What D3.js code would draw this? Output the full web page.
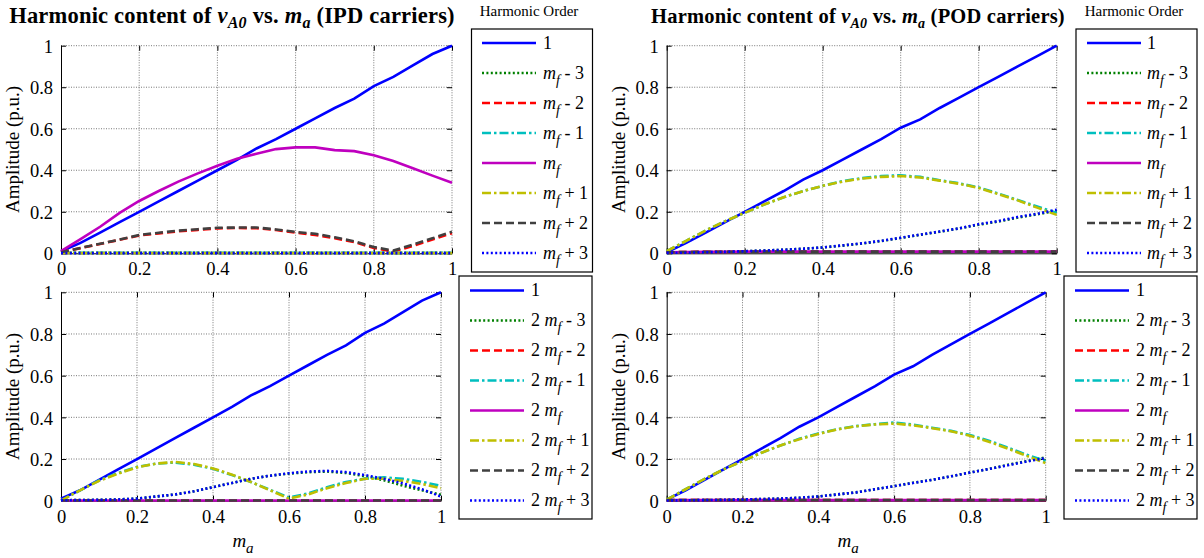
<!DOCTYPE html>
<html>
<head>
<meta charset="utf-8">
<script src="https://cdn.jsdelivr.net/npm/d3@7"></script>
<style>
  body { margin: 0; background: #fff; }
  text { white-space: pre; }
</style>
</head>
<body>
<div id="chart"></div>
<script>
// Harmonic content of vA0 vs. ma - 4 panels (IPD / POD, mf / 2mf)

const width = 1204, height = 558;
const serif = "'Liberation Serif', 'Times New Roman', Times, 'DejaVu Serif', serif";

// x values (ma)
const ma = [0, 0.05, 0.1, 0.15, 0.2, 0.25, 0.3, 0.35, 0.4, 0.45, 0.5, 0.55, 0.6, 0.65, 0.7, 0.75, 0.8, 0.85, 0.9, 0.95, 1];
const yTicks = [0, 0.2, 0.4, 0.6, 0.8, 1];
const xTicks = [0, 0.2, 0.4, 0.6, 0.8, 1];

// fundamental
const ipdFund = [0.01, 0.05, 0.1, 0.15, 0.2, 0.25, 0.3, 0.35, 0.4, 0.45, 0.505, 0.55, 0.6, 0.65, 0.7, 0.745, 0.805, 0.85, 0.905, 0.96, 1.0];
const podFund = [0.005, 0.05, 0.1, 0.15, 0.2, 0.25, 0.3, 0.355, 0.4, 0.45, 0.5, 0.55, 0.605, 0.645, 0.7, 0.75, 0.8, 0.85, 0.9, 0.95, 1.0];

// IPD, sidebands around mf
const ipdMfM3 = [0.003, 0.002, 0.002, 0.002, 0.002, 0.002, 0.002, 0.002, 0.002, 0.002, 0.002, 0.002, 0.002, 0.002, 0.002, 0.002, 0.002, 0.002, 0.002, 0.002, 0.002];
const ipdMfM2 = [0.005, 0.025, 0.045, 0.065, 0.086, 0.096, 0.106, 0.113, 0.12, 0.122, 0.121, 0.112, 0.1, 0.088, 0.073, 0.054, 0.026, 0.008, 0.036, 0.066, 0.097];
const ipdMfM1 = [0.003, 0.002, 0.002, 0.002, 0.002, 0.002, 0.002, 0.002, 0.002, 0.002, 0.002, 0.002, 0.002, 0.002, 0.002, 0.002, 0.002, 0.002, 0.002, 0.002, 0.002];
const ipdMf   = [0.01, 0.068, 0.128, 0.195, 0.252, 0.3, 0.345, 0.385, 0.422, 0.455, 0.48, 0.502, 0.51, 0.51, 0.497, 0.492, 0.472, 0.445, 0.41, 0.374, 0.34];
const ipdMfP1 = [0.002, 0.001, 0.001, 0.001, 0.001, 0.001, 0.001, 0.001, 0.001, 0.001, 0.001, 0.001, 0.001, 0.001, 0.001, 0.001, 0.001, 0.001, 0.001, 0.001, 0.001];
const ipdMfP2 = [0.005, 0.026, 0.046, 0.066, 0.088, 0.099, 0.109, 0.116, 0.123, 0.124, 0.124, 0.115, 0.103, 0.094, 0.077, 0.058, 0.03, 0.013, 0.042, 0.072, 0.104];
const ipdMfP3 = [0.001, 0.001, 0.001, 0.001, 0.001, 0.001, 0.001, 0.001, 0.001, 0.001, 0.001, 0.001, 0.001, 0.001, 0.001, 0.001, 0.001, 0.001, 0.001, 0.001, 0.001];

// IPD, sidebands around 2mf
const ipd2MfM3 = [0.002, 0.003, 0.004, 0.006, 0.01, 0.02, 0.03, 0.045, 0.065, 0.085, 0.105, 0.12, 0.13, 0.137, 0.14, 0.133, 0.118, 0.098, 0.072, 0.05, 0.028];
const ipd2MfM2 = [0.001, 0.001, 0.001, 0.001, 0.001, 0.001, 0.001, 0.001, 0.001, 0.001, 0.001, 0.001, 0.001, 0.001, 0.001, 0.001, 0.001, 0.001, 0.001, 0.001, 0.001];
const ipd2MfM1 = [0.0, 0.05, 0.097, 0.133, 0.162, 0.178, 0.183, 0.173, 0.153, 0.123, 0.09, 0.052, 0.015, 0.035, 0.065, 0.09, 0.106, 0.112, 0.105, 0.09, 0.072];
const ipd2Mf   = [0.001, 0.001, 0.001, 0.001, 0.001, 0.001, 0.001, 0.001, 0.001, 0.001, 0.001, 0.001, 0.001, 0.001, 0.001, 0.001, 0.001, 0.001, 0.001, 0.001, 0.001];
const ipd2MfP1 = [0.0, 0.05, 0.095, 0.13, 0.16, 0.178, 0.186, 0.176, 0.155, 0.125, 0.09, 0.05, 0.01, 0.03, 0.06, 0.085, 0.105, 0.105, 0.095, 0.08, 0.06];
const ipd2MfP2 = [0.001, 0.001, 0.001, 0.001, 0.001, 0.001, 0.001, 0.001, 0.001, 0.001, 0.001, 0.001, 0.001, 0.001, 0.001, 0.001, 0.001, 0.001, 0.001, 0.001, 0.001];
const ipd2MfP3 = [0.002, 0.003, 0.004, 0.006, 0.01, 0.02, 0.03, 0.045, 0.065, 0.085, 0.105, 0.12, 0.132, 0.14, 0.143, 0.137, 0.123, 0.105, 0.083, 0.055, 0.02];

// POD, sidebands around mf
const podMfM3 = [0.002, 0.003, 0.005, 0.007, 0.01, 0.013, 0.017, 0.022, 0.028, 0.037, 0.047, 0.059, 0.074, 0.089, 0.104, 0.12, 0.138, 0.153, 0.172, 0.188, 0.205];
const podMfM2 = [0.005, 0.006, 0.007, 0.007, 0.008, 0.008, 0.008, 0.008, 0.008, 0.008, 0.008, 0.008, 0.008, 0.008, 0.008, 0.008, 0.008, 0.008, 0.008, 0.008, 0.008];
const podMfM1 = [0.01, 0.06, 0.11, 0.155, 0.195, 0.235, 0.27, 0.3, 0.325, 0.347, 0.362, 0.372, 0.376, 0.368, 0.352, 0.337, 0.317, 0.288, 0.257, 0.225, 0.195];
const podMf   = [0.005, 0.006, 0.007, 0.007, 0.008, 0.008, 0.008, 0.008, 0.008, 0.008, 0.008, 0.008, 0.008, 0.008, 0.008, 0.008, 0.008, 0.008, 0.008, 0.008, 0.008];
const podMfP1 = [0.01, 0.06, 0.11, 0.155, 0.195, 0.235, 0.27, 0.3, 0.325, 0.345, 0.36, 0.368, 0.372, 0.365, 0.35, 0.335, 0.315, 0.285, 0.255, 0.22, 0.185];
const podMfP2 = [0.005, 0.006, 0.007, 0.007, 0.008, 0.008, 0.008, 0.008, 0.008, 0.008, 0.008, 0.008, 0.008, 0.008, 0.008, 0.008, 0.008, 0.008, 0.008, 0.008, 0.008];
const podMfP3 = [0.002, 0.003, 0.005, 0.007, 0.01, 0.013, 0.017, 0.022, 0.028, 0.038, 0.048, 0.06, 0.075, 0.09, 0.105, 0.12, 0.14, 0.155, 0.175, 0.19, 0.21];

// POD, sidebands around 2mf
const pod2MfM3 = [0.001, 0.002, 0.003, 0.004, 0.006, 0.008, 0.01, 0.014, 0.02, 0.03, 0.04, 0.055, 0.07, 0.086, 0.1, 0.117, 0.135, 0.152, 0.172, 0.19, 0.208];
const pod2MfM2 = [0.003, 0.003, 0.003, 0.003, 0.003, 0.003, 0.003, 0.003, 0.003, 0.003, 0.003, 0.003, 0.003, 0.003, 0.003, 0.003, 0.003, 0.003, 0.003, 0.003, 0.003];
const pod2MfM1 = [0.005, 0.055, 0.105, 0.15, 0.19, 0.23, 0.265, 0.297, 0.322, 0.343, 0.358, 0.367, 0.375, 0.365, 0.35, 0.335, 0.315, 0.288, 0.255, 0.22, 0.19];
const pod2Mf   = [0.003, 0.003, 0.003, 0.003, 0.003, 0.003, 0.003, 0.003, 0.003, 0.003, 0.003, 0.003, 0.003, 0.003, 0.003, 0.003, 0.003, 0.003, 0.003, 0.003, 0.003];
const pod2MfP1 = [0.005, 0.055, 0.105, 0.15, 0.19, 0.23, 0.265, 0.295, 0.32, 0.342, 0.357, 0.366, 0.37, 0.362, 0.348, 0.333, 0.312, 0.283, 0.25, 0.215, 0.18];
const pod2MfP2 = [0.003, 0.003, 0.003, 0.003, 0.003, 0.003, 0.003, 0.003, 0.003, 0.003, 0.003, 0.003, 0.003, 0.003, 0.003, 0.003, 0.003, 0.003, 0.003, 0.003, 0.003];
const pod2MfP3 = [0.001, 0.002, 0.003, 0.004, 0.006, 0.008, 0.01, 0.014, 0.02, 0.03, 0.04, 0.055, 0.07, 0.085, 0.1, 0.117, 0.135, 0.152, 0.17, 0.188, 0.205];

// legend labels ("m_f" -> italic m with subscript f)
const mfLabels  = ["1", "m_f - 3", "m_f - 2", "m_f - 1", "m_f", "m_f + 1", "m_f + 2", "m_f + 3"];
const mf2Labels = ["1", "2 m_f - 3", "2 m_f - 2", "2 m_f - 1", "2 m_f", "2 m_f + 1", "2 m_f + 2", "2 m_f + 3"];

// styles (MATLAB-like)
const lineColors = ["#0000ff", "#008000", "#ff0000", "#00bfbf", "#bf00bf", "#bfbf00", "#404040", "#0000ff"];
const lineDash   = [null, "2,2.4", "8,4", "9,3,2.5,3", null, "9,3,2.5,3", "8,4", "2,2.4"];

const panels = [
  { x0: 61, x1: 452, yb: 253.3, yt: 45.7, carrier: "IPD", tx: 232, ts: 22.5, xlabel: false,
    series: [ipdFund, ipdMfM3, ipdMfM2, ipdMfM1, ipdMf, ipdMfP1, ipdMfP2, ipdMfP3], labels: mfLabels,
    leg: { x: 471.5, y: 29, w: 121, h: 243, l0: 482, l1: 536, tx: 543, r0: 43, title: 529 } },
  { x0: 61, x1: 441, yb: 500.7, yt: 292.3, carrier: null, xlabel: true,
    series: [ipdFund, ipd2MfM3, ipd2MfM2, ipd2MfM1, ipd2Mf, ipd2MfP1, ipd2MfP2, ipd2MfP3], labels: mf2Labels,
    leg: { x: 459, y: 276, w: 133, h: 243, l0: 470, l1: 524, tx: 531, r0: 290.5, title: null } },
  { x0: 666.7, x1: 1056.7, yb: 253.3, yt: 45.7, carrier: "POD", tx: 858, ts: 20.5, xlabel: false,
    series: [podFund, podMfM3, podMfM2, podMfM1, podMf, podMfP1, podMfP2, podMfP3], labels: mfLabels,
    leg: { x: 1076, y: 29, w: 121, h: 243, l0: 1087, l1: 1141, tx: 1147, r0: 43, title: 1134 } },
  { x0: 666.7, x1: 1045.7, yb: 500.7, yt: 292.3, carrier: null, xlabel: true,
    series: [podFund, pod2MfM3, pod2MfM2, pod2MfM1, pod2Mf, pod2MfP1, pod2MfP2, pod2MfP3], labels: mf2Labels,
    leg: { x: 1064, y: 276, w: 133, h: 243, l0: 1075, l1: 1129, tx: 1136, r0: 290.5, title: null } }
];

const svg = d3.select("#chart")
  .append("svg")
  .attr("width", width)
  .attr("height", height)
  .attr("font-family", serif)
  .style("display", "block");

// writes "2 m_f + 1" style labels with italic m and subscript f
function mathLabel(sel, str, subSize, shift) {
  const parts = str.split("m_");
  if (parts.length === 1) { sel.append("tspan").text(str); return; }
  if (parts[0]) sel.append("tspan").text(parts[0]);
  sel.append("tspan").attr("font-style", "italic").text("m");
  const rest = parts[1];
  sel.append("tspan").attr("font-style", "italic").attr("font-size", subSize).attr("dy", shift).text(rest[0]);
  if (rest.length > 1) sel.append("tspan").attr("dy", -shift).text(rest.slice(1));
}

panels.forEach(p => {
  const x = d3.scaleLinear().domain([0, 1]).range([p.x0, p.x1]);
  const y = d3.scaleLinear().domain([0, 1]).range([p.yb, p.yt]);
  const g = svg.append("g");

  // grid
  g.selectAll(".gx").data(xTicks.filter(d => d > 0)).join("line")
    .attr("x1", d => x(d)).attr("x2", d => x(d))
    .attr("y1", p.yb).attr("y2", p.yt)
    .attr("stroke", "#555").attr("stroke-width", 0.8).attr("stroke-dasharray", "1,1.5");
  g.selectAll(".gy").data(yTicks.filter(d => d > 0)).join("line")
    .attr("x1", p.x0).attr("x2", p.x1)
    .attr("y1", d => y(d)).attr("y2", d => y(d))
    .attr("stroke", "#555").attr("stroke-width", 0.8).attr("stroke-dasharray", "1,1.5");

  // axes (ticks inward)
  const fmt = d => d === 0 || d === 1 ? String(d) : d3.format(".1f")(d);
  const ax = g.append("g").attr("transform", `translate(0,${p.yb})`)
    .call(d3.axisBottom(x).tickValues(xTicks).tickSizeInner(-5).tickSizeOuter(0).tickPadding(9).tickFormat(fmt));
  const ay = g.append("g").attr("transform", `translate(${p.x0},0)`)
    .call(d3.axisLeft(y).tickValues(yTicks).tickSizeInner(-5).tickSizeOuter(0).tickPadding(8).tickFormat(fmt));
  g.append("g").attr("transform", `translate(0,${p.yt})`)
    .call(d3.axisTop(x).tickValues(xTicks).tickSizeInner(-5).tickSizeOuter(0).tickFormat(""))
    .select(".domain").remove();
  g.append("g").attr("transform", `translate(${p.x1},0)`)
    .call(d3.axisRight(y).tickValues(yTicks).tickSizeInner(-5).tickSizeOuter(0).tickFormat(""))
    .select(".domain").remove();
  [ax, ay].forEach(a => a.attr("font-family", serif).attr("font-size", 18.5)
    .selectAll("text").attr("fill", "#000"));
  ay.selectAll("text").attr("dy", "0.36em");

  // series
  const line = d3.line().x((d, i) => x(ma[i])).y(d => y(d));
  p.series.forEach((vals, k) => {
    g.append("path")
      .datum(vals)
      .attr("fill", "none")
      .attr("stroke", lineColors[k])
      .attr("stroke-width", 2.6)
      .attr("stroke-dasharray", lineDash[k])
      .attr("d", line);
  });

  // y label
  g.append("text")
    .attr("transform", `translate(${p.x0 - 42},${(p.yb + p.yt) / 2}) rotate(-90)`)
    .attr("text-anchor", "middle")
    .attr("font-size", 19)
    .text("Amplitude (p.u.)");

  // x label
  if (p.xlabel) {
    const t = g.append("text")
      .attr("x", (p.x0 + p.x1) / 2 - 8).attr("y", 547)
      .attr("text-anchor", "middle").attr("font-size", 19);
    t.append("tspan").attr("font-style", "italic").text("m");
    t.append("tspan").attr("font-style", "italic").attr("font-size", 15).attr("dy", 6).text("a");
  }

  // title
  if (p.carrier) {
    const sub = Math.round(p.ts * 0.7);
    const t = g.append("text")
      .attr("x", p.tx).attr("y", 23)
      .attr("text-anchor", "middle").attr("font-size", p.ts).attr("font-weight", "bold")
      .attr("letter-spacing", 0.2);
    t.append("tspan").text("Harmonic content of ");
    t.append("tspan").attr("font-style", "italic").text("v");
    t.append("tspan").attr("font-style", "italic").attr("font-size", sub).attr("dy", 5).text("A0");
    t.append("tspan").attr("dy", -5).text(" vs. ");
    t.append("tspan").attr("font-style", "italic").text("m");
    t.append("tspan").attr("font-style", "italic").attr("font-size", sub).attr("dy", 5).text("a");
    t.append("tspan").attr("dy", -5).text(` (${p.carrier} carriers)`);
  }

  // legend
  const L = p.leg;
  if (L.title) {
    svg.append("text").attr("x", L.title).attr("y", 16)
      .attr("text-anchor", "middle").attr("font-size", 15).text("Harmonic Order");
  }
  svg.append("rect")
    .attr("x", L.x).attr("y", L.y).attr("width", L.w).attr("height", L.h)
    .attr("fill", "#fff").attr("stroke", "#000").attr("stroke-width", 1.2);
  p.labels.forEach((lab, k) => {
    const ry = L.r0 + k * 30;
    svg.append("line")
      .attr("x1", L.l0).attr("x2", L.l1).attr("y1", ry).attr("y2", ry)
      .attr("stroke", lineColors[k]).attr("stroke-width", 2.6)
      .attr("stroke-dasharray", lineDash[k]);
    const t = svg.append("text").attr("x", L.tx).attr("y", ry + 5.5).attr("font-size", 18);
    mathLabel(t, lab, 14, 6);
  });
});
</script>
</body>
</html>
